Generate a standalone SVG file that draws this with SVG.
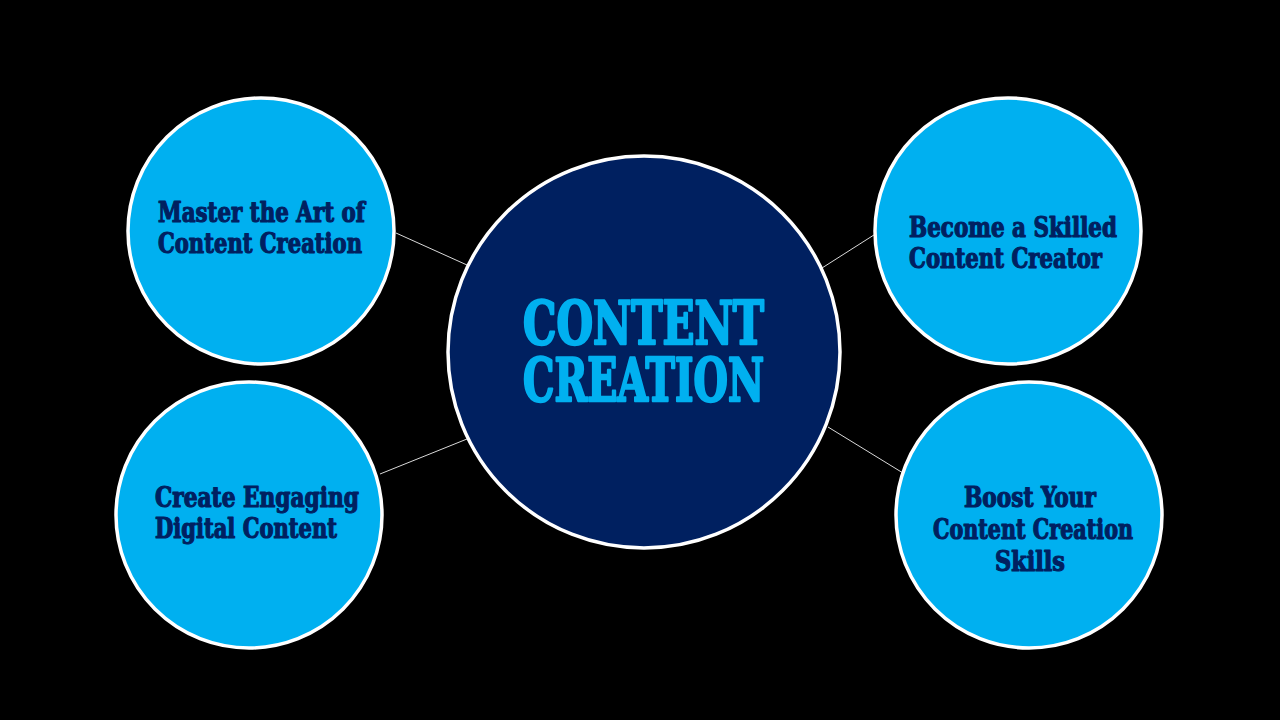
<svg xmlns="http://www.w3.org/2000/svg" width="1280" height="720" viewBox="0 0 1280 720">
  <style>
    .sat { fill: #00B0F0; stroke: #FFFFFF; stroke-width: 3.5; }
    .hub { fill: #002060; stroke: #FFFFFF; stroke-width: 3.5; }
    .lbl { font-family: "DejaVu Serif", "Liberation Serif", serif; font-weight: bold; font-stretch: condensed; font-size: 27px; fill: #002060; stroke: #002060; stroke-width: 1.1; stroke-linejoin: round; }
    .hubt { font-family: "DejaVu Serif", "Liberation Serif", serif; font-weight: bold; font-stretch: condensed; font-size: 60px; fill: #00B0F0; stroke: #00B0F0; stroke-width: 2.4; stroke-linejoin: round; }
    .con { stroke: #D9D9D9; stroke-width: 1; fill: none; }
  </style>
  <rect x="0" y="0" width="1280" height="720" fill="#000000"/>
  <g id="connectors">
    <line class="con" x1="396" y1="233" x2="467" y2="265"/>
    <line class="con" x1="380" y1="474" x2="467" y2="439"/>
    <line class="con" x1="822" y1="268" x2="877" y2="233"/>
    <line class="con" x1="828" y1="427" x2="903" y2="473"/>
  </g>
  <g id="node-center">
    <circle class="hub" cx="644" cy="352" r="196"/>
    <text class="hubt"><tspan x="523" y="344" textLength="241" lengthAdjust="spacingAndGlyphs">CONTENT</tspan><tspan x="523" y="401" textLength="241" lengthAdjust="spacingAndGlyphs">CREATION</tspan></text>
  </g>
  <g id="node-master">
    <circle class="sat" cx="261" cy="231" r="133"/>
    <text class="lbl" x="158" y="222" textLength="207" lengthAdjust="spacingAndGlyphs">Master the Art of</text>
    <text class="lbl" x="158" y="253" textLength="204" lengthAdjust="spacingAndGlyphs">Content Creation</text>
  </g>
  <g id="node-engaging">
    <circle class="sat" cx="249" cy="515" r="133"/>
    <text class="lbl" x="155" y="507" textLength="204" lengthAdjust="spacingAndGlyphs">Create Engaging</text>
    <text class="lbl" x="155" y="538" textLength="182" lengthAdjust="spacingAndGlyphs">Digital Content</text>
  </g>
  <g id="node-skilled">
    <circle class="sat" cx="1008" cy="231" r="133"/>
    <text class="lbl" x="909" y="237" textLength="208" lengthAdjust="spacingAndGlyphs">Become a Skilled</text>
    <text class="lbl" x="909" y="268" textLength="193" lengthAdjust="spacingAndGlyphs">Content Creator</text>
  </g>
  <g id="node-boost">
    <circle class="sat" cx="1029" cy="515" r="133"/>
    <text class="lbl" x="964" y="507" textLength="132" lengthAdjust="spacingAndGlyphs">Boost Your</text>
    <text class="lbl" x="933" y="539" textLength="200" lengthAdjust="spacingAndGlyphs">Content Creation</text>
    <text class="lbl" x="995" y="571" textLength="70" lengthAdjust="spacingAndGlyphs">Skills</text>
  </g>
</svg>
